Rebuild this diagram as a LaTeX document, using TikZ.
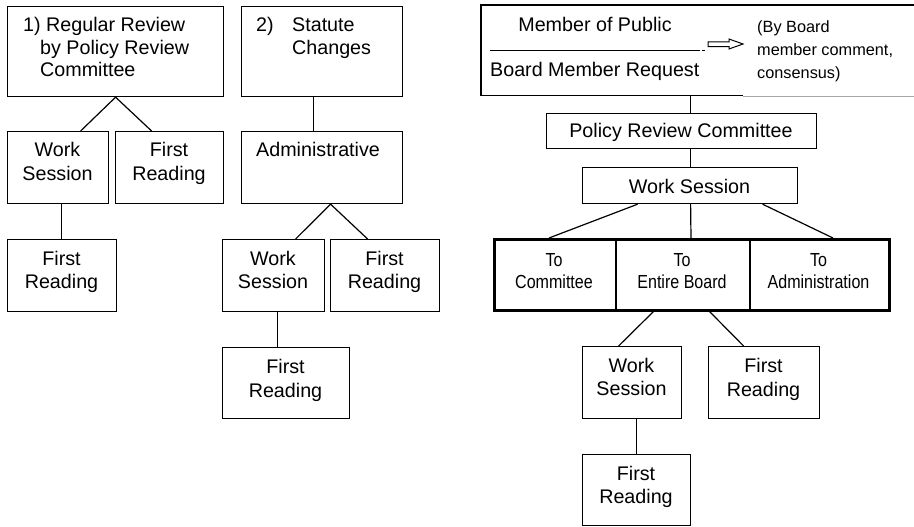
\documentclass[tikz,border=0pt]{standalone}
\usepackage{fontspec}
\setmainfont{Liberation Sans}
\newfontfamily\narrowface[FakeStretch=0.85]{Liberation Sans}
\begin{document}
\begin{tikzpicture}[x=1pt,y=-1pt,
  box/.style={draw, line width=1.2pt, inner sep=0pt, anchor=north west},
  cell/.style={draw, line width=2pt, inner sep=0pt, anchor=north west},
  wt/.style={font=\fontsize{19.7}{23}\selectfont, inner sep=0pt, anchor=base},
  wl/.style={wt, anchor=base west},
  ct/.style={font=\narrowface\fontsize{18.9}{22}\selectfont, inner sep=0pt, anchor=base},
  nl/.style={font=\fontsize{16.3}{20}\selectfont, inner sep=0pt, anchor=base west},
  con/.style={line width=1.2pt}]
\useasboundingbox (0,0) rectangle (914,527);

% ---------- column 1 ----------
\node[box, minimum width=216pt, minimum height=90pt] (b1) at (7,6) {};
\node[wl] (b1t1) at (23,32) {1) Regular Review};
\node[wl] (b1t2) at (40,55) {by Policy Review};
\node[wl] (b1t3) at (40,77) {Committee};

\node[box, minimum width=101pt, minimum height=72pt] (ws1) at (7,131) {};
\node[wt] (ws1a) at (57.5,157) {Work};
\node[wt] (ws1b) at (57.5,180) {Session};

\node[box, minimum width=108pt, minimum height=72pt] (fr1) at (115,131) {};
\node[wt] (fr1a) at (169,157) {First};
\node[wt] (fr1b) at (169,180) {Reading};

\node[box, minimum width=109pt, minimum height=72pt] (fr1x) at (7,239) {};
\node[wt] (fr1xa) at (61.5,265) {First};
\node[wt] (fr1xb) at (61.5,288) {Reading};

\draw[con] (b1.south) -- ([xshift=22.5pt]ws1.north);
\draw[con] (b1.south) -- ([xshift=-18pt]fr1.north);
\draw[con] ([xshift=3.5pt]ws1.south) -- ([xshift=3.5pt]ws1.south |- fr1x.north);

% ---------- column 2 ----------
\node[box, minimum width=161pt, minimum height=90pt] (b2) at (241,6) {};
\node[wl] (b2t0) at (256,32) {2)};
\node[wl] (b2t1) at (292,32) {Statute};
\node[wl] (b2t2) at (292,55) {Changes};

\node[box, minimum width=161pt, minimum height=72pt] (adm) at (241,131) {};
\node[wl] (admt) at (256,157) {Administrative};

\node[box, minimum width=102pt, minimum height=72pt] (ws2) at (222,239) {};
\node[wt] (ws2a) at (273,265) {Work};
\node[wt] (ws2b) at (273,288) {Session};

\node[box, minimum width=109pt, minimum height=72pt] (fr2) at (330,239) {};
\node[wt] (fr2a) at (384.5,265) {First};
\node[wt] (fr2b) at (384.5,288) {Reading};

\node[box, minimum width=127pt, minimum height=71pt] (fr2x) at (222,347) {};
\node[wt] (fr2xa) at (285.5,373) {First};
\node[wt] (fr2xb) at (285.5,397) {Reading};

\draw[con] ([xshift=-8.5pt]b2.south) -- ([xshift=-8.5pt]b2.south |- adm.north);
\draw[con] ([xshift=8.5pt]adm.south) -- ([xshift=22pt]ws2.north);
\draw[con] ([xshift=8.5pt]adm.south) -- ([xshift=-17.5pt]fr2.north);
\draw[con] ([xshift=4pt]ws2.south) -- ([xshift=4pt]ws2.south |- fr2x.north);

% ---------- right part ----------
\node[inner sep=0pt, anchor=north west, minimum width=433pt, minimum height=90pt] (req) at (481,5) {};
\draw[con] (req.north east) -- (req.north west) -- (req.south west) -- ([xshift=262pt]req.south west);
\node[inner sep=0pt, anchor=north west, minimum width=171pt, minimum height=91pt] (note) at (743,5) {};
\draw[black!35, line width=0.8pt] (note.south west) -- (note.south east);

\node[wt] (pub) at (595,32) {Member of Public};
\node[wl] (bmr) at (490,77) {Board Member Request};
\coordinate (mlA) at (490,50);
\coordinate (mlB) at (700,50);
\draw[line width=0.8pt] (mlA) -- (mlB);
\draw[line width=0.8pt] (702,50) -- (705,50);
\draw[line width=1pt, line join=miter] (708,42) -- (729,42) -- (729,39) -- (743,44) -- (729,49) -- (729,46.7) -- (708,46.7) -- cycle;

\node[nl] (n1) at (757,33) {(By Board};
\node[nl] (n2) at (757,56) {member comment,};
\node[nl] (n3) at (757,78) {consensus)};

\node[box, minimum width=270pt, minimum height=35pt] (prc) at (546,113) {};
\node[wt] (prct) at (681,137) {Policy Review Committee};
\draw[con] ([xshift=-7.5pt]req.south) -- ([xshift=-7.5pt]req.south |- prc.north);

\node[box, minimum width=215pt, minimum height=36pt] (wsR) at (582,167) {};
\node[wt] (wsRt) at (689.5,193.5) {Work Session};
\draw[con] ([xshift=9pt]prc.south) -- ([xshift=9pt]prc.south |- wsR.north);

\node[cell, minimum width=122pt, minimum height=71pt] (c1) at (493,238) {};
\node[cell, minimum width=134pt, minimum height=71pt] (c2) at (615,238) {};
\node[cell, minimum width=139pt, minimum height=71pt] (c3) at (749,238) {};
\node[box, line width=3pt, minimum width=395pt, minimum height=71pt] (tb) at (493,238) {};
\node[ct] (c1a) at (554,266) {To};
\node[ct] (c1b) at (554,288.5) {Committee};
\node[ct] (c2a) at (682,266) {To};
\node[ct] (c2b) at (682,288.5) {Entire Board};
\node[ct] (c3a) at (818.5,266) {To};
\node[ct] (c3b) at (818.5,288.5) {Administration};

\draw[con] ([xshift=-52.5pt]wsR.south) -- ([xshift=-6pt]c1.north);
\draw[con] ([xshift=0.5pt]wsR.south) -- ([xshift=8pt]c2.north);
\draw[con] ([xshift=72.5pt]wsR.south) -- ([xshift=13.5pt]c3.north);

\node[box, minimum width=99pt, minimum height=72pt] (wsR2) at (582,346) {};
\node[wt] (wsR2a) at (631.5,372) {Work};
\node[wt] (wsR2b) at (631.5,395) {Session};

\node[box, minimum width=111pt, minimum height=72pt] (frR) at (708,346) {};
\node[wt] (frRa) at (763.5,372) {First};
\node[wt] (frRb) at (763.5,396) {Reading};

\node[box, minimum width=108pt, minimum height=71pt] (frR2) at (582,454) {};
\node[wt] (frR2a) at (636,480) {First};
\node[wt] (frR2b) at (636,503) {Reading};

\draw[con] ([xshift=-29pt]c2.south) -- ([xshift=-13.5pt]wsR2.north);
\draw[con] ([xshift=26pt]c2.south) -- ([xshift=-20.5pt]frR.north);
\draw[con] ([xshift=4.5pt]wsR2.south) -- ([xshift=4.5pt]wsR2.south |- frR2.north);
\end{tikzpicture}
\end{document}
